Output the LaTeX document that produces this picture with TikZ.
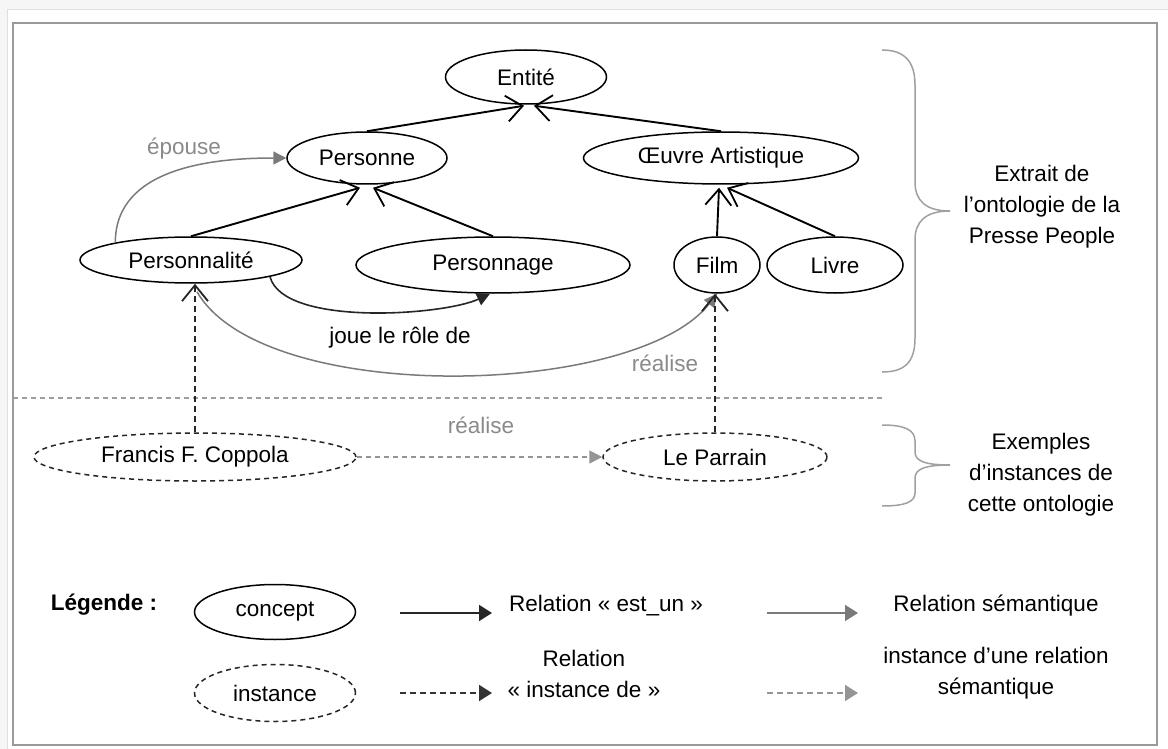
\documentclass[tikz,border=0pt]{standalone}
\usepackage{fontspec}
\setmainfont{Liberation Sans}
\usetikzlibrary{arrows.meta,shapes.geometric}
\definecolor{semgray}{HTML}{7A7A7A}
\definecolor{labgray}{HTML}{8A8A8A}
\definecolor{framegray}{HTML}{9A9A9A}
\definecolor{sepgray}{HTML}{9E9E9E}
\definecolor{bracegray}{HTML}{A0A0A0}
\begin{document}
\begin{tikzpicture}[x=1pt,y=1pt,
  every node/.style={font=\fontsize{22.5}{31}\selectfont, inner sep=0pt},
  concept/.style={ellipse, draw=black, line width=1.5pt},
  instnode/.style={ellipse, draw=black!85, line width=1.5pt, dash pattern=on 5pt off 4pt},
  isa/.style={draw=black, line width=1.9pt, -{Straight Barb[length=16pt,width=26pt,line width=1.8pt]}},
  isaleg/.style={draw=black!85, line width=1.8pt, -{Triangle[length=13pt,width=16pt]}},
  instleg/.style={draw=black!80, line width=1.8pt, dash pattern=on 6pt off 4pt, -{Triangle[length=13pt,width=16pt]}},
  semleg/.style={draw=semgray, line width=1.8pt, -{Triangle[length=13pt,width=16pt]}},
  semdashleg/.style={draw=semgray!80, line width=1.8pt, dash pattern=on 6pt off 4pt, -{Triangle[length=13pt,width=16pt]}},
  sem/.style={draw=semgray, line width=1.5pt, -{Triangle[length=13pt,width=13pt]}},
  semdash/.style={draw=semgray!80, line width=1.6pt, dash pattern=on 5pt off 4pt, -{Triangle[length=13pt,width=13pt]}},
  roleedge/.style={draw=black!85, line width=1.6pt, -{Triangle[length=13pt,width=13pt]}},
  inst/.style={draw=black!85, line width=1.9pt, dash pattern=on 6pt off 4pt, -{Straight Barb[length=16pt,width=26pt,line width=1.8pt]}},
  lab/.style={text=labgray},
  bracestyle/.style={draw=bracegray, line width=1.5pt}
]
\useasboundingbox (0,0) rectangle (1168,-749);
% page and frame
\fill[gray!7] (0,0) rectangle (1168,-749);
\fill[white] (7,-9) rectangle (1168,-749);
\draw[gray!25, line width=0.8pt] (7,-749) -- (7,-9) -- (1168,-9);
\draw[framegray, line width=2pt] (13,-23) rectangle (1157,-745);

% concepts
\node[concept, minimum width=161pt, minimum height=54pt] (ent) at (526,-77) {Entité};
\node[concept, minimum width=160pt, minimum height=52pt] (pers) at (367,-158) {Personne};
\node[concept, minimum width=275pt, minimum height=52pt] (oeuv) at (721,-158) {Œuvre Artistique};
\node[concept, minimum width=222pt, minimum height=46pt] (pnlt) at (191,-260) {Personnalité};
\node[concept, minimum width=274pt, minimum height=56pt] (pnag) at (493,-265) {Personnage};
\node[concept, minimum width=86pt, minimum height=56pt] (film) at (717,-265) {Film};
\node[concept, minimum width=136pt, minimum height=56pt] (livre) at (835,-265) {Livre};

% instances
\node[instnode, minimum width=322pt, minimum height=48pt] (copp) at (195,-457) {Francis F. Coppola};
\node[instnode, minimum width=224pt, minimum height=48pt] (parr) at (715,-457) {Le Parrain};

% est_un edges
\draw[isa] (pers.north) -- ([xshift=-2pt,yshift=-1pt]ent.south);
\draw[isa] (oeuv.north) -- ([xshift=8pt,yshift=-1pt]ent.south);
\draw[isa] (pnlt.north) -- ([xshift=-7pt,yshift=-3pt]pers.south);
\draw[isa] (pnag.north) -- ([xshift=6pt,yshift=-3pt]pers.south);
\draw[isa] (film.north) -- ([xshift=-2pt,yshift=-3pt]oeuv.south);
\draw[isa] (livre.north) -- ([xshift=6pt,yshift=-3pt]oeuv.south);

% semantic relations
\draw[sem] (pnlt.167) to[out=90,in=180] (pers.west);
\node[lab] (lepouse) at (184,-149) {épouse};
\draw[roleedge] (pnlt.348) to[out=-75,in=205,looseness=0.6] ([xshift=-3pt]pnag.south);
\node (ljoue) at (400,-338) {joue le rôle de};
\draw[sem] ([xshift=6pt,yshift=-8pt]pnlt.south) to[out=-60,in=232,looseness=0.65] (film.south);
\node[lab] (lreal1) at (665,-363) {réalise};

% separator
\coordinate (sepL) at (13,-398);
\coordinate (sepR) at (882,-398);
\draw[sepgray, line width=2pt, dash pattern=on 5pt off 4pt] (sepL) -- (sepR);

% instance-of edges
\draw[inst] (copp.north) -- (copp.north |- pnlt.south);
\draw[inst] (parr.north) -- (parr.north |- film.south);
\draw[semdash] (copp.east) -- (parr.west);
\node[lab] (lreal2) at (481,-425) {réalise};

% braces
\draw[bracestyle] (882,-50) .. controls (905,-50) and (915,-62) .. (915,-85) -- (915,-182)
  .. controls (915,-200) and (925,-211) .. (950,-211)
  .. controls (925,-211) and (915,-222) .. (915,-240) -- (915,-338)
  .. controls (915,-362) and (905,-372) .. (882,-372);
\node[align=center] (lextrait) at (1042,-207) {Extrait de\\l’ontologie de la\\Presse People};
\draw[bracestyle] (882,-425) .. controls (905,-425) and (915,-430) .. (915,-441) -- (915,-452)
  .. controls (915,-461) and (925,-465) .. (950,-465)
  .. controls (925,-465) and (915,-469) .. (915,-478) -- (915,-493)
  .. controls (915,-502) and (905,-506) .. (882,-506);
\node[align=center] (lexemples) at (1041,-475) {Exemples\\d’instances de\\cette ontologie};

% legend
\node[font=\fontsize{22.5}{31}\selectfont\bfseries] (lleg) at (104,-605) {Légende :};
\node[concept, minimum width=161pt, minimum height=55pt] (legc) at (275,-612) {concept};
\node[instnode, minimum width=161pt, minimum height=57pt] (legi) at (275,-693) {instance};
\coordinate (a1s) at (400,-613); \coordinate (a1e) at (492,-613);
\coordinate (a2s) at (400,-693); \coordinate (a2e) at (492,-693);
\coordinate (a3s) at (767,-613); \coordinate (a3e) at (858,-613);
\coordinate (a4s) at (767,-693); \coordinate (a4e) at (858,-693);
\draw[isaleg] (a1s) -- (a1e);
\draw[instleg] (a2s) -- (a2e);
\draw[semleg] (a3s) -- (a3e);
\draw[semdashleg] (a4s) -- (a4e);
\node (lestun) at (606,-606) {Relation « est\_un »};
\node[align=center] (linstde) at (584,-674) {Relation\\« instance de »};
\node (lsem) at (996,-606) {Relation sémantique};
\node[align=center] (linstsem) at (996,-673) {instance d’une relation\\sémantique};
\end{tikzpicture}
\end{document}
